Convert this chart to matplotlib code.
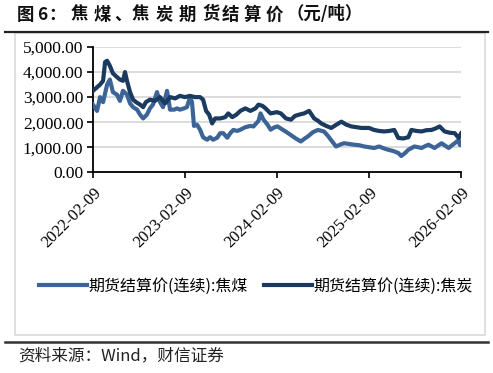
import matplotlib
matplotlib.use("Agg")
import matplotlib.pyplot as plt
import pandas as pd
from matplotlib.patches import Rectangle
from matplotlib.lines import Line2D
from matplotlib import font_manager as fm

coke_dates = ["2022-02-09","2022-03-09","2022-03-21","2022-03-29","2022-04-06","2022-04-17","2022-04-29",
              "2022-05-15","2022-05-27","2022-06-08","2022-06-16","2022-06-24","2022-07-06","2022-07-18",
              "2022-07-30","2022-08-15","2022-08-27","2022-09-07","2022-09-23","2022-10-13","2022-11-02",
              "2022-11-22","2022-12-12","2023-01-01","2023-01-20","2023-02-09","2023-03-01","2023-03-21",
              "2023-04-10","2023-04-22","2023-05-04","2023-05-16","2023-05-28","2023-06-09","2023-06-29",
              "2023-07-19","2023-07-31","2023-08-16","2023-09-01","2023-09-17","2023-10-07","2023-10-27",
              "2023-11-16","2023-11-28","2023-12-14","2023-12-26","2024-01-15","2024-02-09","2024-02-25",
              "2024-03-16","2024-04-05","2024-04-21","2024-05-07","2024-05-27","2024-06-16","2024-07-06",
              "2024-07-22","2024-08-03","2024-08-23","2024-09-12","2024-10-02","2024-10-22","2024-11-11",
              "2024-12-01","2024-12-21","2025-01-10","2025-02-09","2025-03-01","2025-03-21","2025-04-10",
              "2025-04-30","2025-05-20","2025-06-05","2025-06-25","2025-07-15","2025-07-27","2025-08-16",
              "2025-09-05","2025-09-25","2025-10-15","2025-10-31","2025-11-16","2025-12-06","2025-12-26",
              "2026-01-15","2026-01-31","2026-02-09"]
coke_values = [3250,3500,3650,4400,4450,4250,3950,
               3800,3700,3650,4000,3650,3200,2900,
               2800,2700,2600,2800,2900,2850,3000,
               2750,3000,2950,3050,3000,3050,3000,
               3000,2900,2450,2300,1950,2150,2150,
               2200,2350,2200,2300,2450,2550,2450,
               2550,2700,2650,2550,2350,2400,2350,
               2150,2100,2250,2300,2350,2450,2150,
               2050,1950,1850,1770,1900,2020,1900,
               1830,1800,1770,1770,1690,1650,1630,
               1650,1690,1370,1350,1400,1690,1650,
               1630,1680,1690,1750,1830,1630,1580,
               1560,1370,1550]

coal_dates = ["2022-02-09","2022-02-25","2022-03-09","2022-03-21","2022-04-06","2022-04-17","2022-04-29",
              "2022-05-15","2022-05-27","2022-06-08","2022-06-24","2022-07-06","2022-07-18","2022-08-03",
              "2022-08-15","2022-08-27","2022-09-11","2022-09-23","2022-10-05","2022-10-21","2022-11-02",
              "2022-11-14","2022-11-30","2022-12-12","2022-12-28","2023-01-09","2023-01-20","2023-02-05",
              "2023-02-17","2023-03-01","2023-03-09","2023-03-17","2023-03-29","2023-04-10","2023-04-22",
              "2023-05-08","2023-05-20","2023-06-01","2023-06-17","2023-06-29","2023-07-11","2023-07-27",
              "2023-08-08","2023-08-20","2023-09-05","2023-09-17","2023-10-07","2023-10-27","2023-11-08",
              "2023-11-28","2023-12-06","2023-12-18","2024-01-03","2024-01-15","2024-01-31","2024-02-12",
              "2024-03-03","2024-03-19","2024-04-04","2024-04-24","2024-05-14","2024-05-30","2024-06-11",
              "2024-07-01","2024-07-21","2024-08-14","2024-08-30","2024-09-11","2024-10-01","2024-10-21",
              "2024-11-02","2024-11-22","2024-12-12","2025-01-01","2025-01-21","2025-02-09","2025-03-01",
              "2025-03-21","2025-04-10","2025-04-26","2025-05-16","2025-06-05","2025-06-17","2025-07-03",
              "2025-07-15","2025-08-08","2025-08-24","2025-09-05","2025-09-21","2025-10-03","2025-10-27",
              "2025-11-12","2025-11-24","2025-12-10","2025-12-22","2026-01-07","2026-01-15","2026-01-31",
              "2026-02-04","2026-02-09"]
coal_values = [2700,2450,3000,2800,3500,3700,3200,
               3100,2850,3250,3100,2750,2600,2500,
               2300,2150,2300,2550,2700,3200,2800,
               2600,3250,2500,2500,2550,2500,2550,
               2600,3000,2800,1850,1900,1700,1400,
               1300,1400,1300,1380,1560,1560,1380,
               1560,1690,1650,1700,1800,1850,1830,
               2050,2350,2100,1900,1700,1800,1830,
               1700,1600,1490,1350,1230,1350,1430,
               1600,1690,1630,1450,1290,1030,1120,
               1160,1130,1100,1080,1030,1000,970,
               1030,950,900,850,770,650,780,
               900,1030,1000,970,1050,1100,970,
               1080,1160,1050,970,1100,1160,1290,
               1100,1080]

tick_dates = ["2022-02-09","2023-02-09","2024-02-09","2025-02-09","2026-02-09"]
y_ticks = [0,1000,2000,3000,4000,5000]
series_names = ["期货结算价(连续):焦煤","期货结算价(连续):焦炭"]
title_parts = ["图", "6", "：", "焦", "煤", "、", "焦", "炭", "期", "货", "结", "算", "价", "（元/吨）"]
source = "资料来源：Wind，财信证券"

c_coal = "#3C6496"
c_coke = "#1B3A5F"
CJK = ["Noto Sans CJK SC", "DejaVu Sans"]
serif_fp = fm.FontProperties(family=["Liberation Serif", "DejaVu Serif"], size=12)
serif_fp_y = fm.FontProperties(family=["Liberation Serif", "DejaVu Serif"], size=12.5)

fig = plt.figure(figsize=(4.93, 3.73), dpi=100)
W, H = 493, 373
def fx(x): return x / W
def fy(y): return 1 - y / H

# frame box
fig.patches.append(Rectangle((fx(15), fy(335)), fx(485) - fx(15), fy(33) - fy(335),
                             transform=fig.transFigure, facecolor="white", edgecolor="#d9d9d9",
                             lw=1.2, zorder=-10))
fig.add_artist(Line2D([fx(5), fx(488)], [fy(32), fy(32)], color="#222222", lw=1.6))
fig.add_artist(Line2D([fx(5), fx(488)], [fy(341.5), fy(341.5)], color="#333333", lw=1.8))

title_x = [17, 37, 48, 71, 94, 114, 132, 156, 179, 202, 222, 244, 266, 286]
for part, px in zip(title_parts, title_x):
    fig.text(fx(px), fy(14.5), part, fontsize=12.5, fontweight="bold",
             family=CJK, va="center", ha="left", color="#111111")
fig.text(fx(18), fy(356), source, fontsize=12, style="italic",
         family=CJK, va="center", ha="left", color="#222222")

ax = fig.add_axes([fx(93), fy(172.3), fx(461) - fx(93), fy(47) - fy(172.3)])
ax.set_zorder(2)
ax.patch.set_alpha(0)
cd = pd.to_datetime(coal_dates)
kd = pd.to_datetime(coke_dates)
ax.plot(cd, coal_values, color=c_coal, lw=3.0, solid_joinstyle="round", label=series_names[0], zorder=3)
ax.plot(kd, coke_values, color=c_coke, lw=3.0, solid_joinstyle="round", label=series_names[1], zorder=3)

td = pd.to_datetime(tick_dates)
ax.set_xlim(td[0], td[-1])
ax.set_ylim(0, 5000)
ax.set_xticks(td)
ax.set_xticklabels(tick_dates, rotation=45, ha="right", va="top", rotation_mode="anchor",
                   fontproperties=serif_fp)
ax.set_yticks(y_ticks)
ax.set_yticklabels([f"{v:,.2f}" for v in y_ticks], fontproperties=serif_fp_y)
ax.grid(axis="y", color="#d9d9d9", lw=1.3)
ax.set_axisbelow(True)
for s in ["top", "right"]:
    ax.spines[s].set_visible(False)
ax.spines["left"].set_linewidth(1.3)
ax.spines["bottom"].set_linewidth(1.3)
ax.tick_params(axis="both", direction="out", length=4, width=1.2, pad=3)
ax.tick_params(axis="x", pad=5)

leg = fig.legend(handles=ax.get_lines(), labels=series_names, loc="center",
                 bbox_to_anchor=(fx(256), fy(286)), ncol=2, frameon=False,
                 prop={"family": CJK, "size": 11.5},
                 handlelength=3.0, handletextpad=0.1, columnspacing=1.0)
for l in leg.get_lines():
    l.set_linewidth(3)

fig.savefig("out.png", dpi=100)
